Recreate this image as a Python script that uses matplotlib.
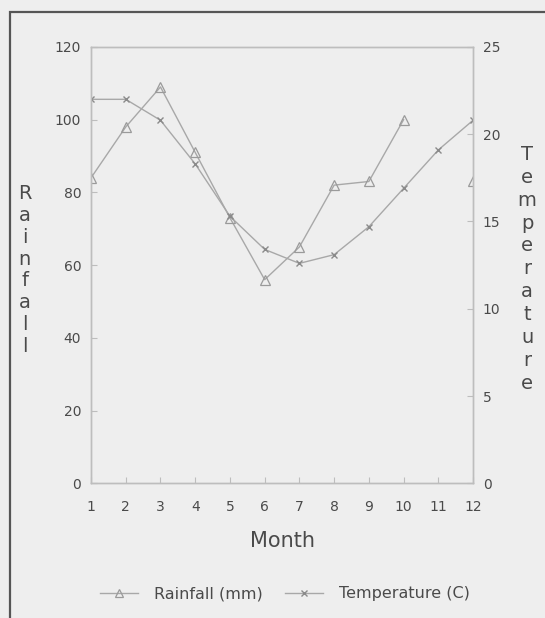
import numpy as np
import matplotlib
matplotlib.use("Agg")
import matplotlib.pyplot as plt
from matplotlib.patches import Rectangle
from matplotlib.lines import Line2D

months = [1, 2, 3, 4, 5, 6, 7, 8, 9, 10, 11, 12]
rainfall = [84, 98, 109, 91, 73, 56, 65, 82, 83, 100, np.nan, 83]
temperature = [22.0, 22.0, 20.8, 18.3, 15.3, 13.4, 12.6, 13.1, 14.7, 16.9, 19.1, 20.8]
rain_ticks = [0, 20, 40, 60, 80, 100, 120]
temp_ticks = [0, 5, 10, 15, 20, 25]

bg = "#eeeeee"
line_c = "#a8a8a8"
axis_c = "#bdbdbd"
text_c = "#4a4a4a"
plt.rcParams['font.family'] = ['DejaVu Sans']

fig = plt.figure(figsize=(5.45, 6.18), dpi=100, facecolor=bg)
ax = fig.add_axes([0.167, 0.218, 0.701, 0.706], facecolor=bg)
ax2 = ax.twinx()

ax.plot(months, rainfall, color=line_c, lw=1.0, marker='^', ms=7,
        mfc='none', mec='#9a9a9a', mew=0.9)
ax2.plot(months, temperature, color=line_c, lw=1.0, marker='x', ms=5,
         mec='#8a8a8a', mew=1.0)

ax.set_xlim(1, 12)
ax.set_ylim(0, 120)
ax2.set_ylim(0, 25)
ax.set_xticks(months)
ax.set_yticks(rain_ticks)
ax2.set_yticks(temp_ticks)

for a in (ax, ax2):
    for s in a.spines.values():
        s.set_color(axis_c)
        s.set_linewidth(1.0)
    a.tick_params(direction='in', length=4, color=axis_c, labelcolor=text_c,
                  labelsize=10, pad=7)
ax.tick_params(axis='x', pad=12)

ax.set_xlabel("Month", fontsize=15, color=text_c, labelpad=12)

fig.text(0.045, 0.563, "\n".join("Rainfall"), fontsize=14, color=text_c,
         ha='center', va='center', ma='center', linespacing=1.19)
fig.text(0.967, 0.565, "\n".join("Temperature"), fontsize=14, color=text_c,
         ha='center', va='center', ma='center', linespacing=1.26)

handles = [
    Line2D([], [], color=line_c, lw=1.0, marker='^', ms=6, mfc='none',
           mec='#9a9a9a', mew=0.9),
    Line2D([], [], color=line_c, lw=1.0, marker='x', ms=4, mec='#8a8a8a', mew=1.0),
]
fig.legend(handles, ["Rainfall (mm)", "Temperature (C)"], loc='center',
           bbox_to_anchor=(0.523, 0.039), ncol=2, frameon=False, fontsize=11.5,
           labelcolor=text_c, handlelength=2.4, columnspacing=1.4, handletextpad=1.0)

fig.patches.append(Rectangle((0.018, -0.05), 1.1, 1.031, transform=fig.transFigure,
                             fill=False, edgecolor='#555555', lw=1.6))

fig.savefig("out.png", dpi=100, facecolor=bg)
